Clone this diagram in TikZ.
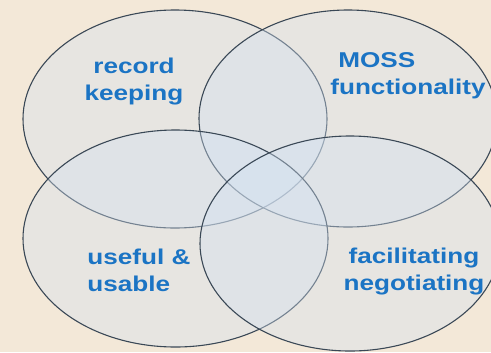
\documentclass[tikz,border=0pt]{standalone}
\usepackage{fontspec}
\setmainfont{Liberation Sans}
\usepackage{graphicx}
\definecolor{backdrop}{HTML}{F3E8D8}
\definecolor{ringfill}{HTML}{D4E2F2}
\definecolor{ringline}{HTML}{3A4856}
\definecolor{topicblue}{HTML}{1B74C4}
\tikzstyle{ring}=[
        draw=ringline,
        line width=1.1pt,
        fill=ringfill,
        fill opacity=0.38
]
\tikzstyle{topic}=[
        text=topicblue,
        font=\bfseries\fontsize{21.5}{27}\selectfont,
        inner sep=0pt,
        anchor=base
]
\newcommand{\wide}[1]{\scalebox{1.22}[1]{#1}}

\begin{document}
\begin{tikzpicture}[x=1bp,y=-1bp]
                        \fill[backdrop] (0,0) rectangle (491,352);
                        \useasboundingbox (0,0) rectangle (491,352);

                        \begin{scope}
                            \clip (0,0) rectangle (491,352);
                            \draw[ring] (175,119) ellipse [x radius=152, y radius=109];
                            \draw[ring] (348,118.5) ellipse [x radius=149, y radius=108.5];
                            \draw[ring] (175.5,238.5) ellipse [x radius=152.5, y radius=108.5];
                            \draw[ring] (350,243.5) ellipse [x radius=150, y radius=107.5];
                        \end{scope}

                        \node[topic, align=center] (keep) at (134,100) {\wide{record}\\\wide{keeping}};
                        \node[topic, align=left] (moss) at (408,94) {\hspace{8bp}\wide{MOSS}\\\wide{functionality}};
                        \node[topic, align=left] (use) at (139,291) {\wide{useful \&}\\\wide{usable}};
                        \node[topic, align=center] (negot) at (414,290) {\wide{facilitating}\\\wide{negotiating}};
\end{tikzpicture}
\end{document}
